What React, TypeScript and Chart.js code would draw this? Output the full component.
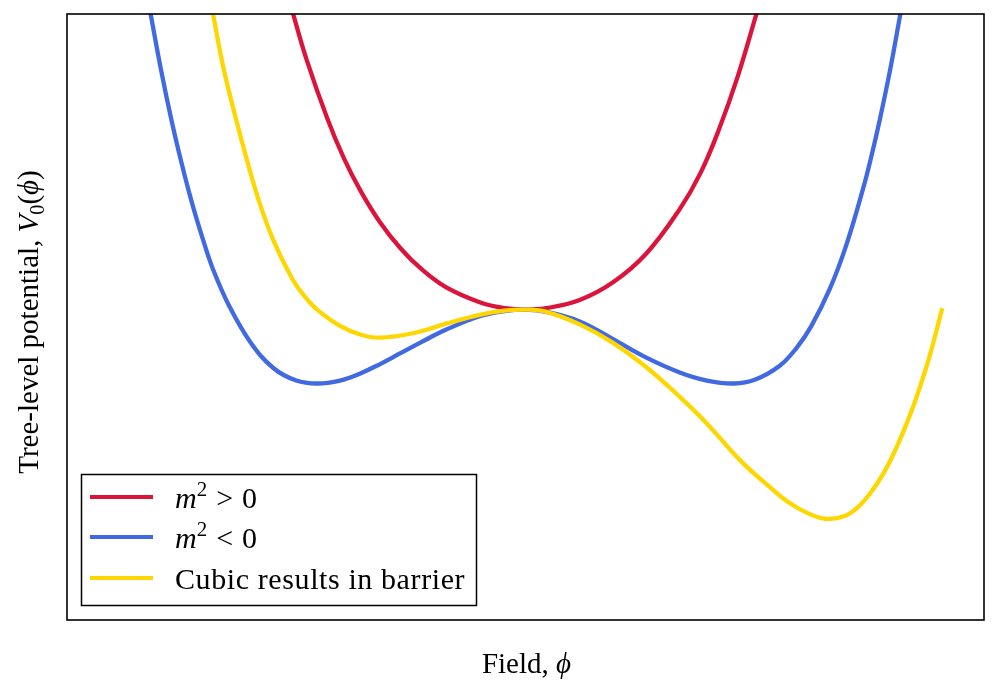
import React, { useEffect, useRef } from "react";
import { Chart, registerables } from "chart.js";

Chart.register(...registerables);

// Field values (x) and potential values (y)
const redX = [-1.12, -1.05, -0.95, -0.87, -0.79, -0.7, -0.6, -0.5, -0.38, -0.22, -0.1, 0, 0.1, 0.26, 0.42, 0.58, 0.74, 0.84, 0.93, 1.02, 1.11];
const redY = [4.05, 3.38, 2.58, 2.04, 1.6, 1.19, 0.83, 0.55, 0.3, 0.1, 0.02, 0, 0.02, 0.13, 0.37, 0.76, 1.36, 1.85, 2.45, 3.17, 4.02];

const blueX = [-1.8, -1.75, -1.7, -1.65, -1.6, -1.55, -1.5, -1.42, -1.32, -1.21, -1.1, -1.0, -0.89, -0.79, -0.7, -0.6, -0.5, -0.38, -0.22, -0.1, 0, 0.1, 0.26, 0.42, 0.58, 0.74, 0.87, 1.0, 1.1, 1.22, 1.3, 1.37, 1.46, 1.54, 1.62, 1.66, 1.7, 1.75, 1.8];
const blueY = [4.02, 3.26, 2.58, 1.98, 1.44, 0.97, 0.55, 0.04, -0.44, -0.79, -0.96, -1.0, -0.96, -0.86, -0.74, -0.59, -0.44, -0.27, -0.09, -0.02, 0, -0.03, -0.16, -0.4, -0.65, -0.85, -0.96, -1.0, -0.95, -0.76, -0.52, -0.23, 0.28, 0.88, 1.64, 2.08, 2.57, 3.25, 4.02];

const yellowX = [-1.5, -1.45, -1.39, -1.34, -1.28, -1.21, -1.12, -1.06, -1.0, -0.89, -0.79, -0.7, -0.54, -0.38, -0.22, -0.1, 0, 0.1, 0.26, 0.42, 0.58, 0.74, 0.87, 1.03, 1.188, 1.269, 1.351, 1.437, 1.525, 1.589, 1.653, 1.717, 1.781, 1.829, 1.877, 1.94, 2.0];
const yellowY = [4.01, 3.28, 2.59, 2.06, 1.48, 0.94, 0.42, 0.18, 0.0, -0.22, -0.34, -0.38, -0.32, -0.19, -0.07, -0.015, 0, -0.03, -0.2, -0.45, -0.78, -1.18, -1.54, -2.04, -2.44, -2.62, -2.75, -2.83, -2.8, -2.69, -2.49, -2.22, -1.86, -1.54, -1.18, -0.62, 0.02];

const xMin = -2.2;
const xMax = 2.2;
const yMin = -4.2;
const yMax = 4.0;

const COLORS = { red: "#DC143C", blue: "#4169E1", yellow: "#FFD700" };

const FONT = '"Liberation Serif", "Times New Roman", serif';

type Seg = { t?: string; it?: boolean; sub?: boolean; sup?: boolean; gap?: number };

function segFont(s: Seg, size: number) {
  const sz = s.sub || s.sup ? size * 0.7 : size;
  return `${s.it ? "italic " : ""}${sz}px ${FONT}`;
}

function measureSegs(ctx: CanvasRenderingContext2D, segs: Seg[], size: number) {
  let w = 0;
  for (const s of segs) {
    if (s.gap) { w += s.gap; continue; }
    ctx.font = segFont(s, size);
    w += ctx.measureText(s.t || "").width;
  }
  return w;
}

function drawSegs(ctx: CanvasRenderingContext2D, segs: Seg[], x: number, y: number, size: number) {
  let cx = x;
  ctx.textBaseline = "alphabetic";
  ctx.textAlign = "left";
  for (const s of segs) {
    if (s.gap) { cx += s.gap; continue; }
    ctx.font = segFont(s, size);
    const dy = s.sub ? size * 0.22 : s.sup ? -size * 0.4 : 0;
    ctx.fillText(s.t || "", cx, y + dy);
    cx += ctx.measureText(s.t || "").width;
  }
}

const legendItems: { color: string; segs: Seg[] }[] = [
  { color: COLORS.red, segs: [{ t: "m", it: true }, { t: "2", sup: true }, { gap: 9 }, { t: ">" }, { gap: 9 }, { t: "0" }] },
  { color: COLORS.blue, segs: [{ t: "m", it: true }, { t: "2", sup: true }, { gap: 9 }, { t: "<" }, { gap: 9 }, { t: "0" }] },
  { color: COLORS.yellow, segs: [{ t: "Cubic results in barrier" }] },
];

const xLabel: Seg[] = [{ t: "Field, " }, { t: "ϕ", it: true }];
const yLabel: Seg[] = [{ t: "Tree-level potential, " }, { t: "V", it: true }, { t: "0", sub: true }, { t: "(" }, { t: "ϕ", it: true }, { t: ")" }];

const decorPlugin = {
  id: "decor",
  afterDraw(chart: any) {
    const ctx: CanvasRenderingContext2D = chart.ctx;
    const a = chart.chartArea;
    ctx.save();
    ctx.strokeStyle = "#000";
    ctx.lineWidth = 1.6;
    ctx.strokeRect(a.left, a.top, a.right - a.left, a.bottom - a.top);

    const lx = 81.5, ly = 474.5, lw = 395, lh = 131;
    ctx.fillStyle = "#fff";
    ctx.fillRect(lx, ly, lw, lh);
    ctx.lineWidth = 1.5;
    ctx.strokeRect(lx, ly, lw, lh);
    const rows = [497, 537, 578];
    legendItems.forEach((it, i) => {
      ctx.strokeStyle = it.color;
      ctx.lineWidth = 4;
      ctx.lineCap = "butt";
      ctx.beginPath();
      ctx.moveTo(90, rows[i]);
      ctx.lineTo(153, rows[i]);
      ctx.stroke();
      ctx.fillStyle = "#000";
      try { (ctx as any).letterSpacing = i === 2 ? "0.6px" : "0px"; } catch (e) {}
      drawSegs(ctx, it.segs, 175, rows[i] + 10.5, 30);
    });
    try { (ctx as any).letterSpacing = "0px"; } catch (e) {}

    const cx = (a.left + a.right) / 2 + 1;
    const wx = measureSegs(ctx, xLabel, 29);
    drawSegs(ctx, xLabel, cx - wx / 2, 673, 29);

    const wy = measureSegs(ctx, yLabel, 29);
    ctx.translate(38, 322);
    ctx.rotate(-Math.PI / 2);
    drawSegs(ctx, yLabel, -wy / 2, 0, 29);
    ctx.restore();
  },
};

function toPts(xs: number[], ys: number[]) {
  return xs.map((x, i) => ({ x, y: ys[i] }));
}

export default function App() {
  const ref = useRef<HTMLCanvasElement | null>(null);
  useEffect(() => {
    if (!ref.current) return;
    const chart = new Chart(ref.current, {
      type: "scatter",
      data: {
        datasets: [
          { label: "m2>0", data: toPts(redX, redY), borderColor: COLORS.red, order: 3 },
          { label: "m2<0", data: toPts(blueX, blueY), borderColor: COLORS.blue, order: 2 },
          { label: "Cubic results in barrier", data: toPts(yellowX, yellowY), borderColor: COLORS.yellow, order: 1 },
        ].map((d) => ({
          ...d,
          showLine: true,
          borderWidth: 4.3,
          pointRadius: 0,
          pointHoverRadius: 0,
          tension: 0.4,
          borderJoinStyle: "round" as const,
          fill: false,
          backgroundColor: d.borderColor,
        })),
      },
      options: {
        animation: false,
        responsive: false,
        maintainAspectRatio: false,
        layout: { padding: { left: 67, right: 13, top: 14, bottom: 73 } },
        scales: {
          x: { type: "linear", min: xMin, max: xMax, display: false },
          y: { type: "linear", min: yMin, max: yMax, display: false },
        },
        plugins: { legend: { display: false }, tooltip: { enabled: false }, title: { display: false } },
        events: [],
      },
      plugins: [decorPlugin],
    });
    return () => chart.destroy();
  }, []);
  return (
    <div style={{ position: "fixed", left: 0, top: 0, width: 997, height: 693, background: "#fff" }}>
      <canvas ref={ref} width={997} height={693} style={{ display: "block", width: 997, height: 693 }} />
    </div>
  );
}
